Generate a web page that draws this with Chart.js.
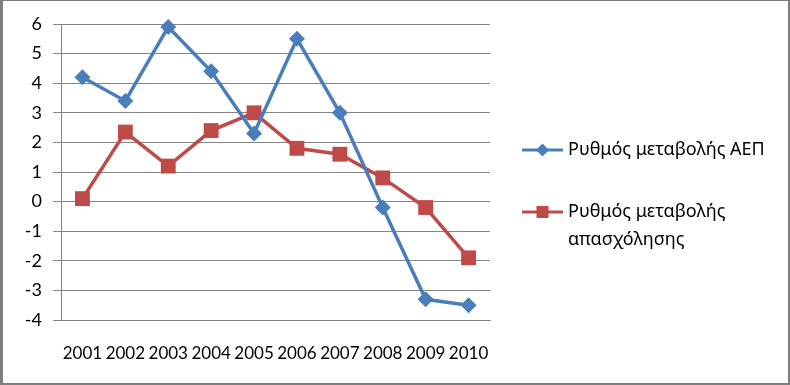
<!DOCTYPE html>
<html>
<head>
<meta charset="utf-8">
<script src="https://cdn.jsdelivr.net/npm/chart.js@4/dist/chart.umd.min.js"></script>
<style>
html,body{margin:0;padding:0;background:#fff;}
#wrap{width:790px;height:385px;position:relative;}
</style>
</head>
<body>
<div id="wrap"><canvas id="c" width="790" height="385"></canvas></div>
<script>
const years = ['2001','2002','2003','2004','2005','2006','2007','2008','2009','2010'];
const gdpRate = [4.2, 3.4, 5.9, 4.4, 2.3, 5.5, 3.0, -0.2, -3.3, -3.5];
const employmentRate = [0.1, 2.35, 1.2, 2.4, 3.0, 1.8, 1.6, 0.8, -0.2, -1.9];
const seriesNames = [['Ρυθμός μεταβολής ΑΕΠ'], ['Ρυθμός μεταβολής', 'απασχόλησης']];
const yTicks = [6,5,4,3,2,1,0,-1,-2,-3,-4];

const BLUE = '#4A7EBB';
const RED = '#BE4B48';
const GRID = '#868686';

const frame = {
  id: 'frame',
  beforeDraw(chart) {
    const ctx = chart.ctx;
    ctx.save();
    ctx.fillStyle = '#fff';
    ctx.fillRect(0, 0, chart.width, chart.height);
    ctx.restore();
  },
  afterDraw(chart) {
    const ctx = chart.ctx;
    ctx.save();
    ctx.fillStyle = '#7f7f7f';
    ctx.fillRect(0, 0, chart.width, 1);
    ctx.fillRect(0, 0, 3, chart.height);
    ctx.fillRect(chart.width - 2, 0, 2, chart.height);
    ctx.fillRect(0, chart.height - 2, chart.width, 2);
    // legend
    const entries = [
      {lines: seriesNames[0], color: BLUE, style: 'diamond', y: 150},
      {lines: seriesNames[1], color: RED, style: 'square', y: 212}
    ];
    ctx.font = '18px "Noto Sans"';
    ctx.textBaseline = 'middle';
    ctx.textAlign = 'left';
    entries.forEach(e => {
      ctx.strokeStyle = e.color;
      ctx.lineWidth = 3;
      ctx.beginPath();
      ctx.moveTo(522, e.y);
      ctx.lineTo(563, e.y);
      ctx.stroke();
      ctx.fillStyle = e.color;
      ctx.beginPath();
      if (e.style === 'square') {
        const s = 6;
        ctx.rect(542.5 - s, e.y - s, 2 * s, 2 * s);
      } else {
        const s = 6.5;
        ctx.moveTo(542.5, e.y - s); ctx.lineTo(542.5 + s, e.y); ctx.lineTo(542.5, e.y + s); ctx.lineTo(542.5 - s, e.y); ctx.closePath();
      }
      ctx.fill();
      ctx.fillStyle = '#000';
      e.lines.forEach((t, i) => ctx.fillText(t, 568, e.y + i * 28));
    });
    ctx.restore();
  }
};

new Chart(document.getElementById('c'), {
  type: 'line',
  data: {
    labels: years,
    datasets: [
      {
        label: seriesNames[0].join(' '),
        data: gdpRate,
        borderColor: BLUE,
        backgroundColor: BLUE,
        borderWidth: 3.5,
        pointStyle: 'rectRot',
        pointRadius: 8,
        pointBorderWidth: 0,
        tension: 0,
        clip: false
      },
      {
        label: seriesNames[1].join(' '),
        data: employmentRate,
        borderColor: RED,
        backgroundColor: RED,
        borderWidth: 3.5,
        pointStyle: 'rect',
        pointRadius: 10.5,
        pointBorderWidth: 0,
        tension: 0,
        clip: false
      }
    ]
  },
  options: {
    responsive: false,
    animation: false,
    devicePixelRatio: 1,
    layout: {padding: {left: 0, top: 24, right: 300, bottom: 0}},
    plugins: {legend: {display: false}, tooltip: {enabled: false}},
    scales: {
      x: {
        offset: true,
        grid: {display: false, drawTicks: false},
        border: {display: true, color: GRID, width: 1},
        ticks: {color: '#000', font: {family: 'Lato', size: 17}, padding: 23, maxRotation: 0, autoSkip: false},
        afterFit(s) { s.height = 65; }
      },
      y: {
        min: -4,
        max: 6,
        afterBuildTicks(s) { s.ticks = yTicks.map(v => ({value: v})); },
        grid: {color: GRID, lineWidth: 1, drawTicks: true, tickLength: 8},
        border: {display: true, color: GRID, width: 1},
        ticks: {color: '#000', font: {family: 'Lato', size: 18}, padding: 11},
        afterFit(s) { s.width = 61; }
      }
    }
  },
  plugins: [frame]
});
</script>
</body>
</html>
